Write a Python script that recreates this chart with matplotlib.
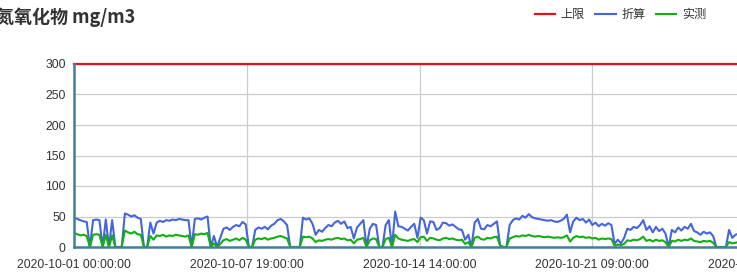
import matplotlib
matplotlib.use("Agg")
import matplotlib.pyplot as plt
import numpy as np
from datetime import datetime, timedelta

plt.rcParams['font.family'] = ['Liberation Sans', 'Noto Sans CJK SC', 'DejaVu Sans']

# 数据：2020-10-01 00:00 起，每3小时一个点
start = datetime(2020, 10, 1, 0, 0, 0)
step_h = 3
limit = 300  # 上限
blue = [48, 46, 44, 42, 41, 0, 44, 45, 44, 0, 45, 0, 44, 0, 0, 0, 55, 53, 50, 52,
        48, 46, 0, 0, 40, 22, 40, 43, 41, 44, 43, 45, 44, 46, 45, 44, 44, 0, 46, 47,
        45, 48, 50, 0, 18, 0, 15, 30, 32, 28, 33, 36, 34, 41, 37, 0, 0, 28, 32, 30,
        33, 29, 35, 38, 44, 46, 42, 36, 0, 0, 0, 0, 48, 45, 47, 38, 20, 28, 25, 31,
        36, 34, 40, 43, 38, 42, 31, 33, 14, 32, 38, 44, 0, 30, 38, 36, 0, 0, 36, 44,
        0, 58, 34, 33, 30, 27, 33, 38, 15, 48, 44, 22, 42, 41, 28, 31, 40, 39, 35, 37,
        33, 29, 28, 12, 20, 0, 40, 46, 30, 29, 36, 34, 38, 42, 3, 0, 0, 36, 44, 47,
        45, 51, 48, 54, 49, 47, 46, 45, 44, 43, 44, 42, 41, 43, 46, 53, 24, 42, 48, 44,
        46, 40, 45, 36, 40, 34, 38, 35, 39, 36, 5, 12, 6, 15, 30, 28, 33, 31, 36, 44,
        28, 34, 24, 33, 26, 30, 22, 0, 28, 24, 32, 27, 33, 30, 38, 26, 24, 20, 25, 22,
        24, 18, 0, 0, 0, 0, 28, 15, 20, 22]
green = [23, 21, 19, 20, 18, 0, 20, 21, 20, 0, 20, 0, 19, 0, 0, 0, 27, 24, 22, 25,
         21, 20, 0, 0, 18, 12, 19, 18, 20, 17, 19, 18, 20, 19, 18, 17, 19, 0, 21, 20,
         22, 21, 23, 0, 6, 0, 5, 11, 13, 10, 12, 14, 11, 15, 12, 0, 0, 12, 14, 13,
         15, 12, 14, 15, 17, 18, 16, 14, 0, 0, 0, 0, 17, 16, 17, 14, 8, 11, 10, 12,
         13, 12, 14, 15, 13, 14, 11, 12, 6, 12, 13, 15, 0, 11, 14, 13, 0, 0, 13, 15,
         0, 20, 14, 12, 11, 10, 12, 13, 8, 16, 17, 10, 15, 14, 12, 11, 14, 15, 13, 14,
         12, 11, 12, 5, 8, 0, 15, 17, 13, 12, 15, 14, 16, 17, 2, 0, 0, 14, 16, 18,
         17, 19, 18, 20, 18, 17, 18, 17, 16, 17, 16, 15, 16, 15, 16, 19, 9, 15, 18, 16,
         17, 15, 16, 14, 15, 12, 14, 13, 14, 13, 2, 4, 3, 5, 11, 10, 12, 11, 13, 17,
         10, 12, 9, 12, 10, 11, 8, 0, 10, 9, 12, 10, 12, 11, 14, 10, 9, 8, 10, 9,
         10, 7, 0, 0, 0, 0, 8, 6, 7, 8]
tick_hours = [0, 163, 326, 489, 652]

hours = np.arange(len(blue)) * step_h
tick_labels = [(start + timedelta(hours=h)).strftime('%Y-%m-%d %H:%M:%S') for h in tick_hours]

W, H = 737, 272
fig = plt.figure(figsize=(W / 100, H / 100), dpi=100)
# 坐标区向右超出画布（原图右侧被裁切）
total_h = 744
ax = fig.add_axes([74 / W, (H - 247) / H, total_h * 1.06 / W, (247 - 64) / H])

ax.plot([0, total_h], [limit, limit], color='#e0141c', lw=1.6, clip_on=False, label='上限', zorder=4)
ax.plot(hours, blue, color='#4466dd', lw=1.5, label='折算', zorder=3)
ax.plot(hours, green, color='#10b010', lw=1.5, label='实测', zorder=3)

ax.set_xlim(0, total_h)
ax.set_ylim(0, 300)
ax.set_yticks(np.arange(0, 301, 50))
ax.set_xticks(tick_hours)
ax.set_xticklabels(tick_labels)
ax.tick_params(axis='both', length=0, labelsize=8.7, colors='#333333')
ax.tick_params(axis='x', pad=9)
ax.tick_params(axis='y', pad=6)
ax.grid(True, color='#cccccc', lw=0.9)
ax.set_axisbelow(True)
for s in ['top', 'right']:
    ax.spines[s].set_visible(False)
for s in ['left', 'bottom']:
    ax.spines[s].set_color('#3f80a0')
    ax.spines[s].set_linewidth(1.8)
    ax.spines[s].set_zorder(5)

fig.text(-4 / W, 1 - 17 / H, '氮氧化物 mg/m3', fontsize=13, fontweight='bold',
         color='#333333', family=['Noto Sans CJK SC', 'DejaVu Sans'], ha='left', va='center')

fig.legend(loc='center right', bbox_to_anchor=(712 / W, 1 - 15 / H), ncol=3, frameon=False,
           fontsize=8.7, handlelength=1.7, handletextpad=0.45, columnspacing=0.85,
           borderpad=0, labelcolor='#333333')

fig.savefig('out.png', dpi=100)
